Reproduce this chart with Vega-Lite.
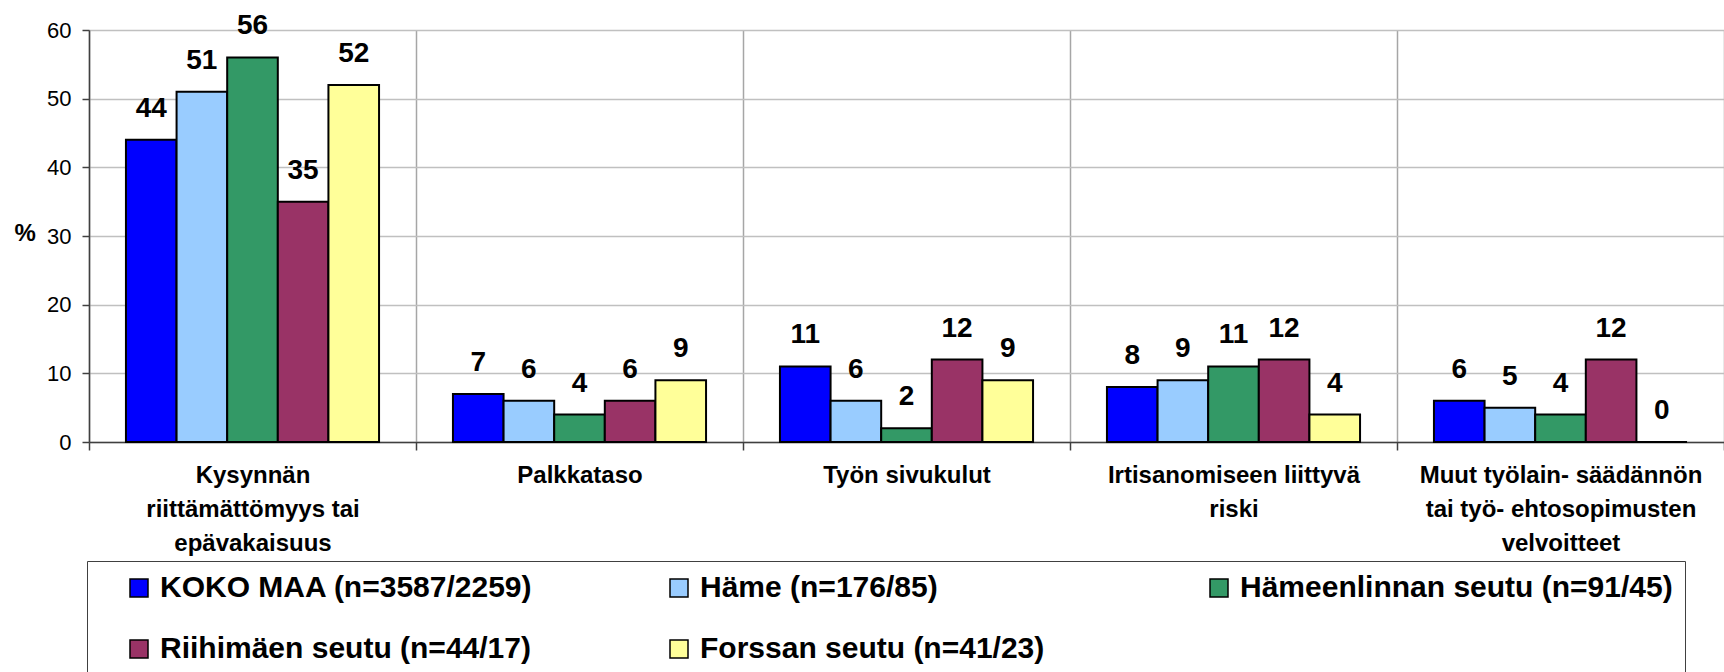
{
  "$schema": "https://vega.github.io/schema/vega-lite/v6.json",
  "width": 1635,
  "height": 412,
  "autosize": {"type": "none"},
  "padding": {"left": 89, "top": 30, "right": 0, "bottom": 230},
  "background": "white",
  "config": {"view": {"stroke": null}, "font": "Liberation Sans"},
  "data": {
    "values": [
      {"cat": "Kysynnän|riittämättömyys tai|epävakaisuus", "series": "KOKO MAA (n=3587/2259)", "value": 44},
      {"cat": "Kysynnän|riittämättömyys tai|epävakaisuus", "series": "Häme (n=176/85)", "value": 51},
      {"cat": "Kysynnän|riittämättömyys tai|epävakaisuus", "series": "Hämeenlinnan seutu (n=91/45)", "value": 56},
      {"cat": "Kysynnän|riittämättömyys tai|epävakaisuus", "series": "Riihimäen seutu (n=44/17)", "value": 35},
      {"cat": "Kysynnän|riittämättömyys tai|epävakaisuus", "series": "Forssan seutu (n=41/23)", "value": 52},
      {"cat": "Palkkataso", "series": "KOKO MAA (n=3587/2259)", "value": 7},
      {"cat": "Palkkataso", "series": "Häme (n=176/85)", "value": 6},
      {"cat": "Palkkataso", "series": "Hämeenlinnan seutu (n=91/45)", "value": 4},
      {"cat": "Palkkataso", "series": "Riihimäen seutu (n=44/17)", "value": 6},
      {"cat": "Palkkataso", "series": "Forssan seutu (n=41/23)", "value": 9},
      {"cat": "Työn sivukulut", "series": "KOKO MAA (n=3587/2259)", "value": 11},
      {"cat": "Työn sivukulut", "series": "Häme (n=176/85)", "value": 6},
      {"cat": "Työn sivukulut", "series": "Hämeenlinnan seutu (n=91/45)", "value": 2},
      {"cat": "Työn sivukulut", "series": "Riihimäen seutu (n=44/17)", "value": 12},
      {"cat": "Työn sivukulut", "series": "Forssan seutu (n=41/23)", "value": 9},
      {"cat": "Irtisanomiseen liittyvä|riski", "series": "KOKO MAA (n=3587/2259)", "value": 8},
      {"cat": "Irtisanomiseen liittyvä|riski", "series": "Häme (n=176/85)", "value": 9},
      {"cat": "Irtisanomiseen liittyvä|riski", "series": "Hämeenlinnan seutu (n=91/45)", "value": 11},
      {"cat": "Irtisanomiseen liittyvä|riski", "series": "Riihimäen seutu (n=44/17)", "value": 12},
      {"cat": "Irtisanomiseen liittyvä|riski", "series": "Forssan seutu (n=41/23)", "value": 4},
      {"cat": "Muut työlain- säädännön|tai työ- ehtosopimusten|velvoitteet", "series": "KOKO MAA (n=3587/2259)", "value": 6},
      {"cat": "Muut työlain- säädännön|tai työ- ehtosopimusten|velvoitteet", "series": "Häme (n=176/85)", "value": 5},
      {"cat": "Muut työlain- säädännön|tai työ- ehtosopimusten|velvoitteet", "series": "Hämeenlinnan seutu (n=91/45)", "value": 4},
      {"cat": "Muut työlain- säädännön|tai työ- ehtosopimusten|velvoitteet", "series": "Riihimäen seutu (n=44/17)", "value": 12},
      {"cat": "Muut työlain- säädännön|tai työ- ehtosopimusten|velvoitteet", "series": "Forssan seutu (n=41/23)", "value": 0}
    ]
  },
  "encoding": {
    "x": {
      "field": "cat",
      "type": "nominal",
      "sort": null,
      "scale": {"paddingInner": 0, "paddingOuter": 0},
      "axis": {
        "title": null,
        "labelAngle": 0,
        "labelExpr": "split(datum.label, '|')",
        "labelFont": "Liberation Sans",
        "labelFontSize": 24,
        "labelFontWeight": "bold",
        "labelColor": "black",
        "labelLineHeight": 34,
        "labelPadding": 13,
        "labelLimit": 400,
        "labelOverlap": false,
        "tickBand": "extent",
        "grid": true,
        "gridColor": "#A6A6A6",
        "gridWidth": 1.5,
        "domainColor": "#404040",
        "domainWidth": 1.5,
        "tickColor": "#404040",
        "tickSize": 8,
        "tickWidth": 1.5
      }
    },
    "xOffset": {
      "field": "series",
      "type": "nominal",
      "sort": ["KOKO MAA (n=3587/2259)", "Häme (n=176/85)", "Hämeenlinnan seutu (n=91/45)", "Riihimäen seutu (n=44/17)", "Forssan seutu (n=41/23)"],
      "scale": {"paddingInner": 0, "paddingOuter": 0.73}
    },
    "y": {
      "field": "value",
      "type": "quantitative",
      "scale": {"domain": [0, 60], "nice": false},
      "axis": {
        "title": "%",
        "titleAngle": 0,
        "titleFont": "Liberation Sans",
        "titleFontSize": 24,
        "titleFontWeight": "bold",
        "titleColor": "black",
        "titleX": -75,
        "titleY": 203,
        "titleAlign": "left",
        "titleBaseline": "middle",
        "values": [0, 10, 20, 30, 40, 50, 60],
        "grid": true,
        "gridColor": "#C0C0C0",
        "gridWidth": 1.5,
        "labelFont": "Liberation Sans",
        "labelFontSize": 22,
        "labelColor": "black",
        "labelPadding": 11,
        "tickSize": 7,
        "tickWidth": 1.5,
        "tickColor": "#404040",
        "domainColor": "#404040",
        "domainWidth": 1.5
      }
    }
  },
  "layer": [
    {
      "mark": {"type": "bar", "stroke": "black", "strokeWidth": 2},
      "encoding": {
        "color": {
          "field": "series",
          "type": "nominal",
          "scale": {
            "domain": ["KOKO MAA (n=3587/2259)", "Häme (n=176/85)", "Hämeenlinnan seutu (n=91/45)", "Riihimäen seutu (n=44/17)", "Forssan seutu (n=41/23)"],
            "range": ["#0000FF", "#99CCFF", "#339966", "#993366", "#FFFF99"]
          },
          "legend": {
            "title": null,
            "orient": "none",
            "legendX": -2,
            "legendY": 531,
            "direction": "horizontal",
            "columns": 3,
            "gridAlign": "all",
            "columnPadding": 46,
            "rowPadding": 31,
            "padding": 12,
            "symbolOffset": 25,
            "labelOffset": 6,
            "strokeColor": "#404040",
            "fillColor": "white",
            "symbolType": "square",
            "symbolSize": 324,
            "symbolStrokeColor": "black",
            "symbolStrokeWidth": 1.5,
            "symbolOpacity": 1,
            "labelFont": "Liberation Sans",
            "labelFontSize": 30,
            "labelFontWeight": "bold",
            "labelColor": "black",
            "labelLimit": 0
          }
        }
      }
    },
    {
      "mark": {"type": "text", "font": "Liberation Sans", "fontWeight": "bold", "fontSize": 28, "baseline": "alphabetic", "dy": -23, "color": "black"},
      "encoding": {"text": {"field": "value", "type": "quantitative"}}
    }
  ]
}
